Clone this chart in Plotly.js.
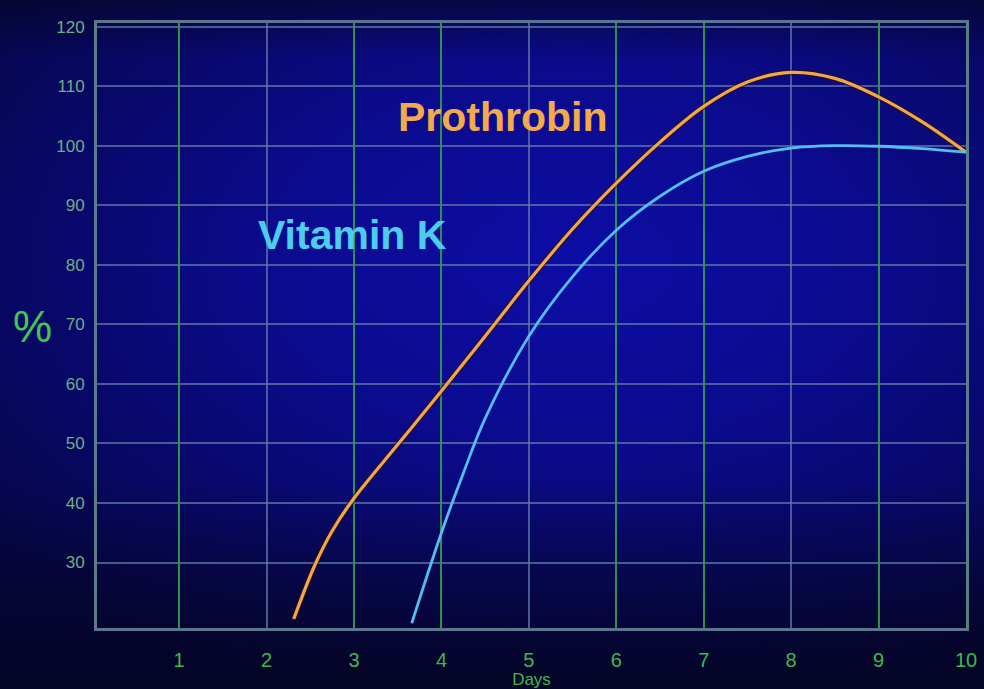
<!DOCTYPE html>
<html>
<head>
<meta charset="utf-8">
<script src="https://cdn.plot.ly/plotly-3.0.1.min.js"></script>
<style>
  html, body { margin: 0; padding: 0; }
  body {
    width: 984px; height: 689px; overflow: hidden;
    background:
      linear-gradient(180deg, rgba(5,5,30,0.55) 0%, rgba(5,5,30,0) 8%, rgba(5,5,30,0) 70%, rgba(4,4,25,0.75) 100%),
      radial-gradient(ellipse 75% 65% at 58% 38%, #0d0da6 0%, #0b0b8e 40%, #08086a 70%, #060648 100%);
  }
  #chart { width: 984px; height: 689px; }
</style>
</head>
<body>
<div id="chart"></div>
<script>
// Prothrombin curve (days, %)
const prothDays = [2.31, 2.55, 2.75, 3.0, 3.5, 4.0, 4.5, 5.0, 5.5, 6.0, 6.5, 7.0, 7.5, 8.0, 8.5, 9.0, 9.5, 10.0];
const prothPct  = [20.5, 29.5, 35.3, 40.8, 49.8, 58.8, 68.0, 77.3, 86.0, 93.7, 100.6, 106.6, 110.7, 112.3, 111.3, 108.2, 104.0, 98.9];

// Vitamin K curve (days, %)
const vitkDays = [3.66, 4.0, 4.25, 4.5, 5.0, 5.5, 6.0, 6.5, 7.0, 7.5, 8.0, 8.5, 9.0, 9.5, 10.0];
const vitkPct  = [19.8, 35.0, 45.0, 54.2, 68.0, 78.0, 85.8, 91.5, 95.7, 98.2, 99.6, 100.0, 99.9, 99.5, 98.9];

const xTicks = [1, 2, 3, 4, 5, 6, 7, 8, 9, 10];
const xGreenGrid = [1, 3, 4, 6, 7, 9];
const yTicks = [30, 40, 50, 60, 70, 80, 90, 100, 110, 120];

const traces = [
  { x: prothDays, y: prothPct, mode: 'lines', xaxis: 'x2', yaxis: 'y',
    line: { color: 'rgba(0,0,0,0)', width: 0 }, hoverinfo: 'skip' },
  { x: prothDays, y: prothPct, mode: 'lines', name: 'shadow',
    line: { color: 'rgba(50,15,10,0.55)', width: 6, shape: 'spline', smoothing: 1 }, hoverinfo: 'skip' },
  { x: prothDays, y: prothPct, mode: 'lines', name: 'Prothrobin',
    line: { color: '#f2a64a', width: 3.2, shape: 'spline', smoothing: 1 }, hoverinfo: 'skip' },
  { x: vitkDays, y: vitkPct, mode: 'lines', name: 'Vitamin K',
    line: { color: '#55bdf0', width: 2.8, shape: 'spline', smoothing: 1 }, hoverinfo: 'skip' }
];

const layout = {
  width: 984, height: 689,
  margin: { l: 97, r: 18, t: 23, b: 61 },
  paper_bgcolor: 'rgba(0,0,0,0)',
  plot_bgcolor: 'rgba(0,0,0,0)',
  showlegend: false,
  font: { family: 'Liberation Sans, Arial, sans-serif' },
  xaxis: {
    range: [0.06, 10], tickvals: xTicks, ticktext: xTicks.map(String),
    showgrid: true, gridcolor: 'rgba(95,120,165,0.75)', gridwidth: 2,
    zeroline: false, showline: true, linecolor: 'rgba(100,130,150,0.9)', linewidth: 3, mirror: true,
    ticks: '', ticklabelstandoff: 12,
    tickfont: { size: 20, color: '#3fb84c' },
    title: { text: 'Days', font: { size: 17, color: '#3fb84c' }, standoff: 4 }
  },
  xaxis2: {
    range: [0.06, 10], overlaying: 'x', anchor: 'y', side: 'bottom', tickvals: xGreenGrid,
    showticklabels: false, showgrid: true, gridcolor: 'rgba(45,150,70,0.9)', gridwidth: 2,
    zeroline: false, showline: false, ticks: ''
  },
  yaxis: {
    range: [19, 120.6], tickvals: yTicks, ticktext: yTicks.map(String),
    showgrid: true, gridcolor: 'rgba(95,120,165,0.75)', gridwidth: 2,
    zeroline: false, showline: true, linecolor: 'rgba(100,140,140,0.9)', linewidth: 3, mirror: true,
    ticks: '', ticklabelstandoff: 6,
    tickfont: { size: 17, color: '#6fae80' }
  },
  annotations: [
    { text: 'Prothrobin', xref: 'paper', yref: 'paper', x: (503 - 97) / 869, y: (628 - 117) / 605,
      xanchor: 'center', yanchor: 'middle', showarrow: false,
      font: { size: 41, color: '#f4aa4c', family: 'Liberation Sans, Arial, sans-serif', weight: 'bold' } },
    { text: 'Vitamin K', xref: 'paper', yref: 'paper', x: (352 - 97) / 869, y: (628 - 235) / 605,
      xanchor: 'center', yanchor: 'middle', showarrow: false,
      font: { size: 41, color: '#4ccdec', family: 'Liberation Sans, Arial, sans-serif', weight: 'bold' } },
    { text: '%', xref: 'paper', yref: 'paper', x: (32 - 97) / 869, y: (628 - 326) / 605,
      xanchor: 'center', yanchor: 'middle', showarrow: false,
      font: { size: 44, color: '#3fc851', family: 'Liberation Sans, Arial, sans-serif' } }
  ]
};

Plotly.newPlot('chart', traces, layout, { staticPlot: true, displayModeBar: false });
</script>
</body>
</html>
